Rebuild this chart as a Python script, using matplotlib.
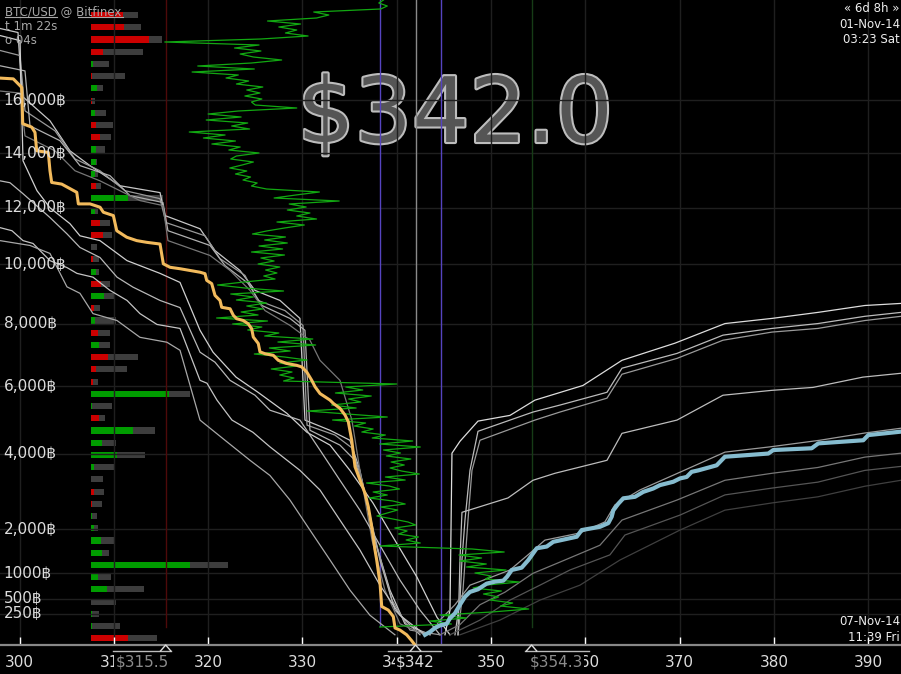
import numpy as np
import matplotlib
matplotlib.use("Agg")
import matplotlib.pyplot as plt
from matplotlib import transforms
from matplotlib.lines import Line2D
import matplotlib.patheffects as pe

plt.rcParams['font.family'] = ['DejaVu Sans', 'Noto Sans', 'Noto Sans CJK SC']

# ---------------- data ----------------
x_ticks = [300, 310, 320, 330, 340, 350, 360, 370, 380, 390]
y_tick_values = [16000, 14000, 12000, 10000, 8000, 6000, 4000, 2000, 1000, 500, 250]
y_tick_labels = ["16,000฿", "14,000฿", "12,000฿", "10,000฿", "8,000฿", "6,000฿",
                 "4,000฿", "2,000฿", "1000฿", "500฿", "250฿"]

best_bid = 315.5
last_price = 342.0
best_ask = 354.3
band_low = 338.2
band_high = 344.7

# current cumulative bid depth (orange)
bid_price = [297.93, 299.34, 300.23, 300.34, 301.29, 301.64, 301.82, 303.05, 303.23, 303.41,
             304.47, 306.07, 306.24, 307.48, 308.54, 308.89, 309.95, 310.31, 311.37, 312.43,
             313.49, 314.90, 315.25, 315.96, 317.02, 319.14, 319.67, 319.85, 320.38, 320.73,
             321.26, 321.44, 322.33, 322.68, 323.03, 323.73, 324.26, 324.62, 324.79, 325.32,
             325.50, 326.03, 326.91, 327.44, 328.33, 329.40, 329.93, 330.46, 330.99, 331.34,
             331.87, 332.40, 332.93, 333.28, 333.99, 334.52, 334.87, 335.23, 335.58, 336.64,
             336.99, 337.35, 337.70, 337.88, 338.23, 338.41, 339.11, 339.64, 339.82, 340.35,
             341.06, 341.59, 341.94]
bid_volume = [16860, 16830, 16500, 15110, 14980, 14780, 14090, 14030, 13350, 12920,
              12860, 12560, 12140, 12140, 12020, 11840, 11720, 11180, 10950, 10830,
              10770, 10710, 10020, 9900, 9850, 9730, 9680, 9450, 9340, 8940,
              8770, 8540, 8490, 8270, 8160, 8100, 7990, 7830, 7560, 7350,
              7080, 7020, 6970, 6810, 6710, 6650, 6600, 6440, 6180, 5980,
              5770, 5670, 5570, 5470, 5320, 5120, 4920, 4380, 3630, 2910,
              2560, 2060, 1510, 1285, 800, 370, 311, 210, 60, 37,
              0, -50, -100]

# current cumulative ask depth (blue)
ask_price = [343.00, 343.53, 344.06, 344.59, 345.30, 345.65, 346.18, 346.71, 347.24, 347.77,
             348.62, 349.54, 350.42, 351.30, 351.70, 352.20, 353.25, 353.96, 354.85, 355.91,
             356.61, 359.09, 359.62, 361.56, 362.44, 362.80, 362.97, 363.50, 364.03, 365.27,
             366.15, 367.21, 367.92, 369.33, 370.04, 370.75, 371.28, 371.98, 373.93, 374.81,
             379.41, 379.94, 384.01, 384.71, 389.48, 390.01, 393.48]
ask_volume = [0, 20, 60, 90, 110, 185, 260, 400, 540, 630,
              680, 790, 830, 850, 930, 1070, 1120, 1285, 1550, 1590,
              1700, 1820, 1980, 2060, 2150, 2310, 2470, 2640, 2780, 2820,
              2950, 3040, 3130, 3220, 3310, 3350, 3490, 3530, 3670, 3910,
              4000, 4100, 4150, 4290, 4380, 4530, 4630]

# historical bid depth snapshots
bid_hist_u1_price = [297.93, 299.84, 300.26, 303.23, 305.35, 307.47, 310.65, 314.90, 315.43, 319.14, 320.73, 323.38, 324.97, 327.62, 329.74, 330.27, 332.92, 335.04, 336.10, 337.69, 339.28, 340.87, 343.53]
bid_hist_u1_volume = [18810, 18650, 16170, 15220, 14090, 13540, 12800, 12550, 11720, 11250, 10480, 9790, 9110, 8770, 8170, 4970, 4670, 4380, 3530, 1740, 665, 110, 0]
bid_hist_u2_price = [297.93, 300.05, 300.58, 303.76, 305.88, 308.53, 311.18, 314.90, 315.53, 319.67, 321.26, 323.91, 325.29, 328.15, 330.06, 330.49, 333.45, 335.25, 336.32, 338.01, 339.50, 341.41, 344.59]
bid_hist_u2_volume = [17940, 17740, 15600, 14840, 13790, 13350, 12620, 12330, 11470, 11000, 10200, 9620, 8770, 8430, 7940, 4820, 4530, 4160, 3260, 1510, 480, 37, 0]
bid_hist_u3_price = [297.93, 300.58, 301.11, 304.29, 306.41, 309.59, 311.71, 315.21, 315.74, 320.20, 321.79, 324.23, 325.71, 328.68, 330.27, 330.80, 333.98, 335.57, 336.63, 338.22, 339.81, 342.47]
bid_hist_u3_volume = [17340, 17140, 15030, 14470, 13540, 13170, 12440, 12190, 11180, 10660, 9960, 9350, 8600, 8170, 7780, 4670, 4240, 3810, 2870, 1285, 310, 0]
bid_hist_u4_price = [297.93, 300.05, 300.58, 303.76, 305.88, 308.53, 312.77, 315.21, 315.74, 320.20, 322.32, 324.44, 326.03, 328.68, 330.80, 331.86, 333.98, 335.25, 336.10, 337.38, 338.75, 340.35, 343.00]
bid_hist_u4_volume = [16360, 16280, 14650, 14090, 13350, 12980, 12260, 12080, 10830, 10310, 9790, 9110, 8430, 7940, 7455, 6810, 6180, 4970, 3530, 1740, 665, 110, 0]
bid_hist_l1_price = [297.93, 300.05, 300.37, 301.85, 303.23, 305.35, 306.41, 308.53, 311.40, 314.90, 317.02, 319.14, 320.52, 322.96, 325.29, 328.36, 330.49, 332.93, 335.04, 337.48, 339.60, 342.15, 344.27, 345.65]
bid_hist_l1_volume = [18530, 18330, 13720, 12620, 12000, 11430, 11000, 10830, 10130, 9690, 9380, 7780, 7070, 6280, 5810, 5170, 4610, 4240, 3530, 2660, 1815, 920, 200, 0]
bid_hist_l2_price = [297.93, 298.99, 300.37, 301.43, 303.23, 305.03, 306.41, 308.53, 310.34, 312.03, 314.90, 317.02, 319.14, 320.73, 322.32, 324.97, 326.56, 329.74, 331.86, 333.98, 336.10, 338.22, 340.35, 342.47, 344.59]
bid_hist_l2_volume = [12980, 12910, 12510, 12190, 11650, 11070, 10590, 10240, 9560, 9220, 8770, 8530, 7070, 6750, 6180, 5720, 5265, 4970, 4100, 3260, 2475, 1620, 860, 310, 0]
bid_hist_l3_price = [297.93, 299.20, 300.37, 301.43, 303.23, 305.03, 306.09, 307.79, 309.59, 311.40, 312.77, 314.58, 317.02, 319.14, 319.88, 320.94, 322.53, 324.76, 326.56, 329.74, 331.86, 333.98, 336.10, 338.22, 340.35, 343.00]
bid_hist_l3_volume = [11290, 11180, 10830, 10730, 10130, 9890, 9690, 9560, 9110, 8770, 8330, 7970, 7840, 6180, 6090, 5570, 4970, 4610, 4190, 3530, 3000, 2225, 1510, 760, 230, 0]
bid_hist_l4_price = [297.93, 301.11, 303.23, 305.03, 306.41, 307.79, 310.34, 312.77, 315.63, 317.02, 319.14, 321.79, 324.44, 326.56, 328.68, 330.80, 332.93, 335.04, 337.16, 339.81]
bid_hist_l4_volume = [10830, 10660, 10380, 9230, 9010, 8330, 8100, 7550, 7390, 7130, 4970, 4380, 3810, 3390, 2735, 1980, 1285, 665, 230, 0]

# historical ask depth snapshots
ask_hist_1_price = [345.12, 345.65, 345.86, 346.71, 348.62, 352.01, 354.66, 359.75, 363.89, 369.51, 374.81, 379.79, 384.67, 389.65, 393.48]
ask_hist_1_volume = [0, 310, 4010, 4350, 4940, 5110, 5570, 6020, 6810, 7360, 8000, 8170, 8370, 8600, 8670]
ask_hist_2_price = [346.18, 346.71, 346.92, 347.24, 347.77, 348.62, 354.45, 357.31, 362.30, 363.89, 369.72, 374.60, 379.79, 384.67, 389.65, 393.48]
ask_hist_2_volume = [0, 480, 1285, 2225, 3530, 4640, 5210, 5420, 5810, 6560, 7030, 7620, 7840, 8000, 8240, 8370]
ask_hist_3_price = [346.50, 347.03, 347.56, 347.98, 348.83, 354.66, 357.31, 362.30, 363.89, 369.72, 374.60, 379.79, 384.67, 389.65, 393.48]
ask_hist_3_volume = [0, 665, 2225, 3530, 4380, 4970, 5210, 5630, 6370, 6870, 7455, 7720, 7840, 8100, 8240]
ask_hist_4_price = [346.50, 346.71, 346.92, 351.80, 354.45, 356.78, 362.30, 363.89, 369.72, 374.60, 379.79, 384.14, 389.44, 393.48]
ask_hist_4_volume = [0, 1285, 2420, 2790, 3260, 3450, 3810, 4580, 4970, 5720, 5870, 5960, 6280, 6400]
ask_hist_5_price = [343.53, 344.59, 346.18, 347.77, 349.89, 352.01, 353.92, 355.72, 359.43, 362.08, 363.14, 365.79, 370.04, 374.81, 379.58, 384.88, 389.65, 393.48]
ask_hist_5_volume = [0, 160, 400, 760, 910, 1070, 1400, 1740, 1910, 2180, 2610, 3000, 3480, 4040, 4190, 4380, 4590, 4730]
ask_hist_6_price = [344.59, 346.71, 348.83, 351.48, 354.45, 357.31, 361.55, 363.89, 369.72, 374.81, 379.79, 384.67, 389.65, 393.48]
ask_hist_6_volume = [0, 100, 400, 625, 1000, 1240, 1620, 2225, 2735, 3260, 3450, 3610, 3900, 4010]
ask_hist_7_price = [345.65, 348.83, 352.01, 355.19, 358.37, 362.61, 364.20, 370.04, 374.81, 379.79, 384.67, 389.65, 393.48]
ask_hist_7_volume = [0, 160, 480, 760, 1070, 1400, 1860, 2350, 2870, 3050, 3210, 3530, 3640]
ask_hist_8_price = [346.71, 350.95, 355.19, 359.43, 363.67, 370.04, 374.81, 379.79, 384.67, 389.65, 393.48]
ask_hist_8_volume = [0, 160, 480, 760, 1285, 1980, 2475, 2660, 2820, 3100, 3260]

# trade price history (time runs downward)
trade_price = [
    338.6, 338.1, 339.0, 338.3, 331.2, 332.8, 331.5, 326.3, 329.8, 327.5,
    329.4, 328.2, 330.6, 325.6, 315.4, 325.4, 322.8, 325.6, 323.4, 324.8,
    327.8, 324.6, 318.9, 324.9, 318.3, 323.2, 321.9, 324.3, 323.0, 325.8,
    324.1, 325.5, 323.9, 325.7, 324.6, 325.0, 329.4, 323.2, 320.0, 323.5,
    319.8, 324.2, 322.5, 324.4, 318.0, 321.8, 319.5, 322.9, 320.4, 323.4,
    322.2, 325.4, 323.0, 322.4, 324.8, 323.6, 322.3, 324.1, 322.9, 324.5,
    323.7, 325.2, 324.6, 326.2, 331.8, 329.3, 327.0, 333.9, 328.6, 330.4,
    328.4, 330.8, 329.4, 331.5, 327.3, 330.2, 328.1, 326.2, 324.7, 328.2,
    326.0, 328.4, 325.4, 327.9, 324.6, 328.1, 325.6, 327.0, 325.3, 327.6,
    326.1, 327.3, 325.9, 327.1, 323.8, 321.0, 323.9, 328.0, 322.4, 324.8,
    323.0, 326.2, 324.1, 325.8, 323.5, 325.3, 320.9, 326.3, 322.6, 325.7,
    324.2, 327.5, 326.0, 331.1, 327.4, 331.4, 326.5, 328.7, 324.9, 328.1,
    330.5, 327.6, 329.4, 326.7, 328.9, 327.6, 329.1, 328.0, 340.0, 334.6,
    336.4, 333.5, 337.3, 334.9, 336.2, 333.1, 335.7, 330.5, 334.8, 339.0,
    333.2, 336.7, 335.5, 337.5, 336.3, 338.8, 337.4, 341.7, 338.2, 342.5,
    338.6, 340.4, 338.9, 341.5, 339.4, 340.8, 339.3, 340.5, 342.4, 338.8,
    340.9, 336.8, 339.2, 340.3, 337.5, 339.0, 337.1, 339.6, 340.9, 338.3,
    340.1, 339.0, 337.9, 339.6, 341.2, 342.0, 339.8, 341.1, 340.2, 342.3,
    341.0, 342.5, 338.2, 348.0, 351.4, 346.6, 349.0, 346.7, 349.5, 347.4,
    351.6, 348.3, 350.0, 349.4, 353.0, 349.6, 348.1, 351.1, 349.2, 350.8,
    349.9, 352.3, 351.0, 354.0, 350.1, 344.6, 347.4, 343.5, 345.8, 338.2,
]

# volume per time bucket: total and taker part, side r=sell g=buy
vol_total = [47, 50, 71, 52, 18, 34, 12, 4, 15, 22, 20, 14, 6, 7, 10, 72, 7, 19, 21, 6,
             8, 8, 19, 24, 9, 25, 19, 19, 47, 36, 7, 99, 21, 14, 64, 25, 54, 24, 12, 13,
             11, 6, 7, 24, 18, 137, 20, 53, 25, 8, 29, 66]
vol_taker = [32, 33, 58, 12, 2, 1, 6, 1, 4, 5, 9, 5, 5, 4, 5, 37, 4, 9, 12, 0,
             2, 5, 10, 13, 3, 4, 7, 8, 17, 5, 2, 78, 1, 8, 42, 11, 26, 3, 0, 3,
             1, 1, 3, 10, 11, 99, 7, 16, 0, 1, 1, 37]
vol_side = "rrrrgrgrgrrgggrggrrgrgrgrgrgrrrggrggggrrrggggggggggr"

# ---------------- figure ----------------
W, H = 901, 674
fig = plt.figure(figsize=(W / 100, H / 100), dpi=100, facecolor='black')
RECT = [0, 29 / H, 1, 645 / H]
XLIM = (297.93, 393.48)
YLIM = (-100, 19950)


def fwd(v):
    v = np.asarray(v, dtype=float)
    return np.sign(v) * np.abs(v) ** 0.78


def inv(u):
    u = np.asarray(u, dtype=float)
    return np.sign(u) * np.abs(u) ** (1 / 0.78)


# volume bars (bottom layer)
axb = fig.add_axes(RECT, zorder=0)
axb.axis('off')
rows = np.arange(len(vol_total))
axb.barh(rows, vol_total, height=0.5, color='#3d3d3d')
axb.barh(rows, vol_taker, height=0.5,
         color=['#cc0000' if s == 'r' else '#009c00' for s in vol_side])
axb.set_xlim(-91, 810)
axb.set_ylim(51.55, -1.23)

# main axes
ax = fig.add_axes(RECT, zorder=1)
ax.set_facecolor('none')
ax.set_xlim(*XLIM)
ax.set_yscale('function', functions=(fwd, inv))
ax.set_ylim(*YLIM)
ax.set_xticks(x_ticks)
ax.set_yticks(y_tick_values)
ax.tick_params(axis='y', length=0, labelleft=False)
ax.tick_params(axis='x', direction='in', length=6, width=1, color='white',
               labelcolor='#dddddd', labelsize=11, pad=7)
ax.set_axisbelow(True)
ax.grid(True, color='#1f1f1f', lw=1)
for s in ['top', 'left', 'right']:
    ax.spines[s].set_visible(False)
ax.spines['bottom'].set_color('#888888')
ax.spines['bottom'].set_linewidth(1.6)

ax.text(0.505, (645 - 142) / 645, f"${last_price:.1f}", transform=ax.transAxes,
        ha='center', va='baseline', fontsize=65, color='#555555', zorder=0.3,
        path_effects=[pe.withStroke(linewidth=3, foreground='#bdbdbd')])

ax.axvline(band_low, ymin=0.03, color='#5543c0', lw=1, zorder=1)
ax.axvline(band_high, color='#5543c0', lw=1, zorder=1)
ax.axvline(last_price, color='#8a8a8a', lw=1, zorder=1)
ax.axvline(best_bid, ymin=0.028, color='#4e0a0a', lw=1, zorder=1)
ax.axvline(best_ask, ymin=0.028, color='#163c16', lw=1, zorder=1)

bid_hist = [(bid_hist_u1_price, bid_hist_u1_volume, '#c8c8c8'),
            (bid_hist_u2_price, bid_hist_u2_volume, '#9a9a9a'),
            (bid_hist_u3_price, bid_hist_u3_volume, '#b0b0b0'),
            (bid_hist_u4_price, bid_hist_u4_volume, '#777777'),
            (bid_hist_l1_price, bid_hist_l1_volume, '#d0d0d0'),
            (bid_hist_l2_price, bid_hist_l2_volume, '#b8b8b8'),
            (bid_hist_l3_price, bid_hist_l3_volume, '#c4c4c4'),
            (bid_hist_l4_price, bid_hist_l4_volume, '#a8a8a8')]
ask_hist = [(ask_hist_1_price, ask_hist_1_volume, '#dddddd'),
            (ask_hist_2_price, ask_hist_2_volume, '#bbbbbb'),
            (ask_hist_3_price, ask_hist_3_volume, '#9a9a9a'),
            (ask_hist_4_price, ask_hist_4_volume, '#bdbdbd'),
            (ask_hist_5_price, ask_hist_5_volume, '#9a9a9a'),
            (ask_hist_6_price, ask_hist_6_volume, '#777777'),
            (ask_hist_7_price, ask_hist_7_volume, '#555555'),
            (ask_hist_8_price, ask_hist_8_volume, '#404040')]
for p, v, c in bid_hist + ask_hist:
    ax.plot(p, v, color=c, lw=0.9, zorder=2)

# trade price history
axg = ax.twinx()
axg.set_zorder(2)
axg.axis('off')
axg.plot(trade_price, np.arange(len(trade_price)), color='#12a812', lw=0.9)
axg.set_ylim(645 / 3, 0)
axg.set_xlim(*XLIM)

# top layer: current depth, labels, markers
axt = fig.add_axes(RECT, zorder=3)
axt.set_facecolor('none')
axt.axis('off')
axt.set_xlim(*XLIM)
axt.set_yscale('function', functions=(fwd, inv))
axt.set_ylim(*YLIM)
axt.plot(bid_price, bid_volume, color='#f2ba5c', lw=2.2, solid_joinstyle='round',
         clip_on=True)
axt.plot(ask_price, ask_volume, color='#86bccf', lw=3, solid_joinstyle='round')

ylab_tr = transforms.blended_transform_factory(axt.transAxes, axt.transData)
for v, lab in zip(y_tick_values, y_tick_labels):
    axt.text(0.004, v, lab, transform=ylab_tr, ha='left', va='center',
             fontsize=11, color='#dddddd', zorder=5)

mk_tr = transforms.blended_transform_factory(axt.transData, axt.transAxes)


def price_marker(price, label, align, color, left, right):
    axt.plot([price - left, price + right], [-0.0093, -0.0093], transform=mk_tr,
             color='#bbbbbb', lw=1, clip_on=False, zorder=6)
    axt.plot([price - 0.55, price, price + 0.55], [-0.0093, 0.0, -0.0093],
             transform=mk_tr, color='#dddddd', lw=1, clip_on=False, zorder=6)
    tx = {'right': price + 0.3, 'center': price, 'left': price - 0.2}[align]
    axt.text(tx, -0.026, label, transform=mk_tr, ha=align, va='center', fontsize=11,
             color=color, clip_on=False, zorder=7,
             bbox=dict(facecolor='black', edgecolor='none', pad=0.5))


price_marker(best_bid, f"${best_bid:.1f}", 'right', '#8c8c8c', 5.6, 0.6)
price_marker(last_price, f"${last_price:g}", 'center', '#dddddd', 2.9, 2.7)
price_marker(best_ask, f"${best_ask:.1f}", 'left', '#8c8c8c', 0.7, 6.1)


# ---------------- corner texts ----------------
def fx(x):
    return x / W


def fy(y):
    return 1 - y / H


fig.text(fx(5), fy(15), "BTC/USD @ Bitfinex", fontsize=8.5, color='#a8a8a8',
         va='baseline', ha='left', zorder=10)
fig.add_artist(Line2D([fx(5), fx(57)], [fy(16.5), fy(16.5)], color='#a8a8a8', lw=0.8))
fig.add_artist(Line2D([fx(78), fx(123)], [fy(16.5), fy(16.5)], color='#a8a8a8', lw=0.8))
fig.text(fx(5), fy(29.5), "t 1m 22s", fontsize=8.5, color='#a8a8a8', va='baseline', ha='left')
fig.text(fx(5), fy(44), "o 04s", fontsize=8.5, color='#a8a8a8', va='baseline', ha='left')

fig.text(fx(899), fy(12), "« 6d 8h »", fontsize=8.5, color='#eeeeee', va='baseline', ha='right')
fig.text(fx(900), fy(28), "01-Nov-14", fontsize=8.5, color='#eeeeee', va='baseline', ha='right')
fig.text(fx(900), fy(43), "03:23 Sat", fontsize=8.5, color='#eeeeee', va='baseline', ha='right')
fig.text(fx(900), fy(625), "07-Nov-14", fontsize=8.5, color='#eeeeee', va='baseline', ha='right')
fig.text(fx(900), fy(641), "11:39 Fri", fontsize=8.5, color='#eeeeee', va='baseline', ha='right')

fig.savefig("out.png", dpi=100, facecolor='black')
